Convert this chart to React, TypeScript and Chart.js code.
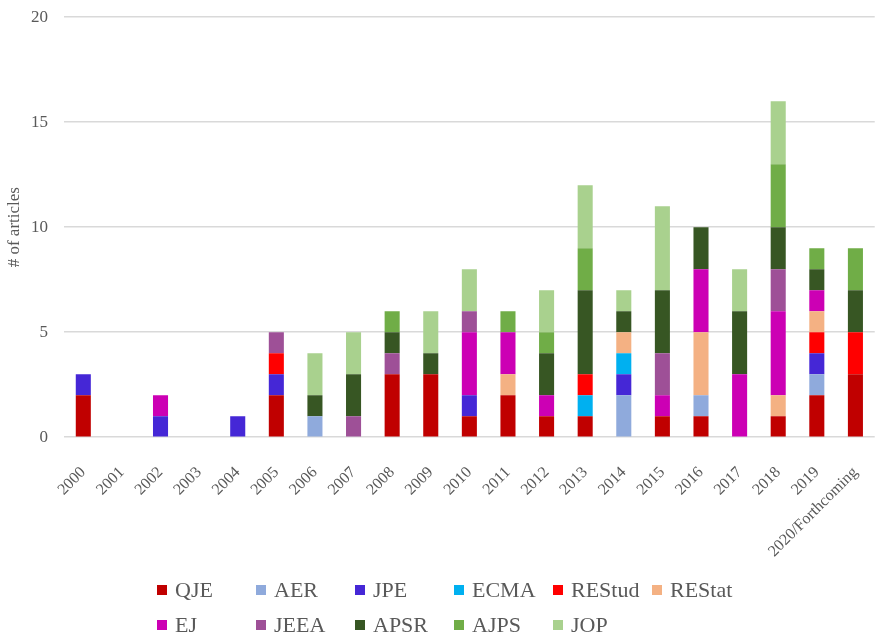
import React, { useEffect, useRef } from "react";
import { Chart, registerables } from "chart.js";

Chart.register(...registerables);

const categories = ["2000","2001","2002","2003","2004","2005","2006","2007","2008","2009","2010","2011","2012","2013","2014","2015","2016","2017","2018","2019","2020/Forthcoming"];

const seriesNames = ["QJE","AER","JPE","ECMA","REStud","REStat","EJ","JEEA","APSR","AJPS","JOP"];
const seriesColors = ["#C00000","#8FAADC","#4527D6","#00B0F0","#FF0000","#F4B183","#CC00B4","#9E5097","#375623","#70AD47","#A9D18E"];

const QJE    = [2,0,0,0,0,2,0,0,3,3,1,2,1,1,0,1,1,0,1,2,3];
const AER    = [0,0,0,0,0,0,1,0,0,0,0,0,0,0,2,0,1,0,0,1,0];
const JPE    = [1,0,1,0,1,1,0,0,0,0,1,0,0,0,1,0,0,0,0,1,0];
const ECMA   = [0,0,0,0,0,0,0,0,0,0,0,0,0,1,1,0,0,0,0,0,0];
const REStud = [0,0,0,0,0,1,0,0,0,0,0,0,0,1,0,0,0,0,0,1,2];
const REStat = [0,0,0,0,0,0,0,0,0,0,0,1,0,0,1,0,3,0,1,1,0];
const EJ     = [0,0,1,0,0,0,0,0,0,0,3,2,1,0,0,1,3,3,4,1,0];
const JEEA   = [0,0,0,0,0,1,0,1,1,0,1,0,0,0,0,2,0,0,2,0,0];
const APSR   = [0,0,0,0,0,0,1,2,1,1,0,0,2,4,1,3,2,3,2,1,2];
const AJPS   = [0,0,0,0,0,0,0,0,1,0,0,1,1,2,0,0,0,0,3,1,2];
const JOP    = [0,0,0,0,0,0,2,2,0,2,2,0,2,3,1,4,0,2,3,0,0];

const seriesValues = [QJE, AER, JPE, ECMA, REStud, REStat, EJ, JEEA, APSR, AJPS, JOP];

const yTicks = [0, 5, 10, 15, 20];

const FONT = "'Liberation Serif', 'DejaVu Serif', serif";
const TEXT = "#595959";

export default function App() {
  const ref = useRef<HTMLCanvasElement | null>(null);

  useEffect(() => {
    document.body.style.margin = "0";
    if (!ref.current) return;
    const chart = new Chart(ref.current, {
      type: "bar",
      data: {
        labels: categories,
        datasets: seriesNames.map((name, i) => ({
          label: name,
          data: seriesValues[i],
          backgroundColor: seriesColors[i],
          borderWidth: 0,
          barPercentage: 0.39,
          categoryPercentage: 1,
        })),
      },
      options: {
        animation: false,
        responsive: false,
        maintainAspectRatio: false,
        layout: { padding: { left: 4, right: 0, top: 1, bottom: 2 } },
        plugins: {
          legend: { display: false },
          tooltip: { enabled: false },
        },
        scales: {
          x: {
            stacked: true,
            grid: { display: false },
            border: { display: false },
            ticks: {
              minRotation: 45,
              maxRotation: 45,
              autoSkip: false,
              color: TEXT,
              font: { family: FONT, size: 16 },
              padding: 18,
            },
          },
          y: {
            stacked: true,
            min: 0,
            max: 20,
            afterBuildTicks: (scale: any) => {
              scale.ticks = yTicks.map((v) => ({ value: v }));
            },
            afterFit: (scale: any) => {
              scale.width = 60;
            },
            grid: { color: "#D9D9D9", lineWidth: 1.5, drawTicks: false },
            border: { display: false },
            ticks: {
              color: TEXT,
              font: { family: FONT, size: 17 },
              padding: 16,
            },
            title: {
              display: true,
              text: "# of articles",
              color: TEXT,
              font: { family: FONT, size: 17 },
              padding: 0,
            },
          },
        },
      },
    });
    return () => chart.destroy();
  }, []);

  const legendRows = [seriesNames.slice(0, 6), seriesNames.slice(6)];

  return (
    <div style={{ position: "absolute", left: 0, top: 0, width: 887, height: 638, background: "#fff", overflow: "hidden" }}>
      <canvas ref={ref} width={887} height={590} style={{ display: "block", position: "absolute", left: 0, top: -9 }} />
      <div style={{ position: "absolute", left: 157, top: 572, fontFamily: FONT, color: TEXT, fontSize: 22 }}>
        {legendRows.map((row, r) => (
          <div key={r} style={{ display: "flex", height: 35, alignItems: "center" }}>
            {row.map((name) => {
              const i = seriesNames.indexOf(name);
              return (
                <div key={name} style={{ width: 99, display: "flex", alignItems: "center", whiteSpace: "nowrap" }}>
                  <span style={{ display: "inline-block", width: 10, height: 10, background: seriesColors[i], marginRight: 8 }} />
                  <span>{name}</span>
                </div>
              );
            })}
          </div>
        ))}
      </div>
    </div>
  );
}
